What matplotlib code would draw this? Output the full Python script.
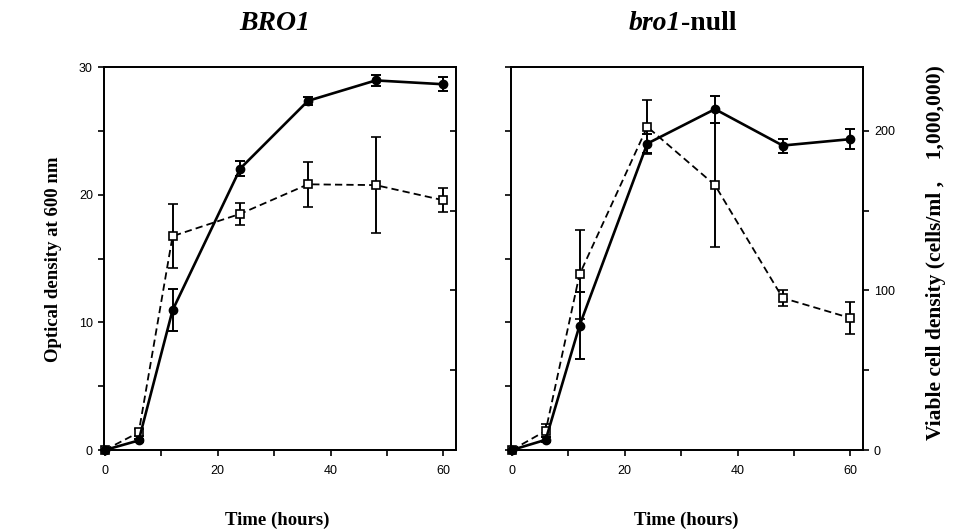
import matplotlib
matplotlib.use("Agg")
import matplotlib.pyplot as plt
from matplotlib.ticker import MultipleLocator, FixedLocator, NullFormatter

# growth curves
time = [0, 6, 12, 24, 36, 48, 60]

# BRO1 panel
bro1_od = [0, 0.75, 10.95, 22.05, 27.35, 28.95, 28.65]
bro1_od_err = [0, 0.1, 1.65, 0.55, 0.3, 0.4, 0.55]
bro1_cells = [0, 11, 134, 148, 166.5, 166, 156.5]
bro1_cells_err = [0, 2, 20, 7, 14, 30, 7.5]

# bro1-null panel
null_od = [0, 0.8, 9.75, 24.0, 26.7, 23.85, 24.35]
null_od_err = [0, 0.2, 2.65, 0.75, 1.05, 0.55, 0.8]
null_cells = [0, 12, 110, 202.5, 166, 95.3, 82.7]
null_cells_err = [0, 4, 28, 17, 39, 5, 10]

plt.rcParams['font.family'] = ['Liberation Sans', 'DejaVu Sans']
SERIF = ['Liberation Serif', 'DejaVu Serif']

fig = plt.figure(figsize=(9.56, 5.31), dpi=100)


def panel(left, od, od_err, cells, cells_err, right_labels):
  """one growth panel with OD on the left scale and cell count on the right"""
  ax = fig.add_axes([left, 0.1525, 0.368, 0.7213])
  ax2 = ax.twinx()
  # keep the OD curve (filled circles) on top of the cell curve
  ax.set_zorder(ax2.get_zorder() + 1)
  ax.patch.set_visible(False)

  ax.errorbar(time, od, yerr=od_err, color='black', lw=1.9, marker='o',
              ms=6, elinewidth=1.4, capsize=3.5, capthick=1.4, clip_on=False,
              zorder=3)
  ax2.errorbar(time, cells, yerr=cells_err, color='black', lw=1.3,
               ls=(0, (4, 2.3)), marker='s', ms=5.5, mfc='white', mec='black',
               mew=1.2, elinewidth=1.4, capsize=3.5, capthick=1.4,
               clip_on=False, zorder=3)

  ax.set_xlim(-0.15, 62.2)
  ax.set_ylim(0, 30)
  ax2.set_ylim(0, 240)

  for a in (ax, ax2):
    for s in a.spines.values():
      s.set_linewidth(1.3)

  ax.xaxis.set_major_locator(MultipleLocator(20))
  ax.xaxis.set_minor_locator(MultipleLocator(10))
  ax.yaxis.set_major_locator(MultipleLocator(10))
  ax.yaxis.set_minor_locator(MultipleLocator(5))
  ax.tick_params(which='both', direction='out', length=4.5, width=1.2,
                 labelsize=9)
  ax.tick_params(axis='x', pad=6)

  ax2.yaxis.set_major_locator(MultipleLocator(100))
  ax2.yaxis.set_minor_locator(FixedLocator([50, 150]))
  if right_labels:
    ax2.tick_params(which='both', direction='out', length=4.5, width=1.2,
                    labelsize=9)
    ax.yaxis.set_major_formatter(NullFormatter())
  else:
    ax2.tick_params(which='both', direction='in', length=4, width=1.2,
                    labelright=False)
  return ax, ax2


panel(0.1088, bro1_od, bro1_od_err, bro1_cells, bro1_cells_err, False)
panel(0.5345, null_od, null_od_err, null_cells, null_cells_err, True)

# titles
fig.text(275 / 956, 1 - 24 / 531, 'BRO1', family=SERIF, fontsize=20,
         weight='bold', style='italic', ha='center', va='center')
fig.text(681 / 956, 1 - 24 / 531, 'bro1', family=SERIF, fontsize=20,
         weight='bold', style='italic', ha='right', va='center')
fig.text(681 / 956, 1 - 24 / 531, '-null', family=SERIF, fontsize=20,
         weight='bold', ha='left', va='center')

# axis labels
for xc in (277, 686):
  fig.text(xc / 956, 1 - 520 / 531, 'Time (hours)', family=SERIF,
           fontsize=13.5, weight='bold', ha='center', va='center')
fig.text(54 / 956, 1 - 259 / 531, 'Optical density at 600 nm', family=SERIF,
         fontsize=13.5, weight='bold', rotation=90, ha='center', va='center')
fig.text(936 / 956, 1 - 253 / 531,
         'Viable cell density (cells/ml ,    1,000,000)',
         family=SERIF, fontsize=15.5, weight='bold', rotation=90, ha='center',
         va='center')

plt.savefig('out.png', dpi=100)
